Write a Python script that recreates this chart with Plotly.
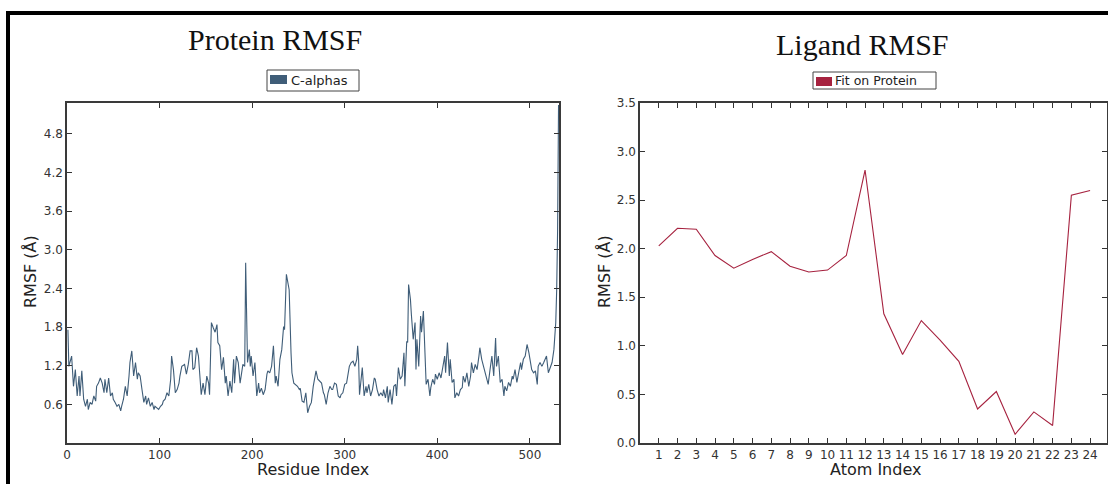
import plotly.graph_objects as go

# ---------------- data ----------------
protein_residue = [1, 2, 5, 7, 9, 11, 13, 14, 16, 18, 20, 22, 23, 25, 27, 29, 31, 32, 34, 36,
                   38, 40, 41, 43, 45, 47, 49, 50, 52, 54, 56, 58, 59, 61, 63, 65, 67, 68, 70, 72,
                   74, 76, 77, 79, 81, 83, 85, 86, 88, 90, 92, 94, 95, 97, 99, 101, 103, 104, 106, 108,
                   110, 112, 113, 115, 117, 119, 121, 122, 124,
                   127, 129, 131, 133, 135, 136, 138, 140, 142, 144, 145, 147, 149, 151, 153, 154,
                   156, 158, 160, 162, 163, 165, 167, 169, 171, 172, 174, 176, 178, 180, 181, 183,
                   185, 187, 189, 190, 192, 193, 195, 197, 198, 199, 201, 203, 205, 207, 208, 210,
                   212, 214, 216, 217, 219, 221, 223, 225, 226, 228, 230, 232, 234, 235, 237, 238,
                   240, 242, 243, 245, 247, 249, 251, 252, 254, 256, 258,
                   260, 262, 264, 266, 268, 269, 271, 273, 275, 277, 278, 280, 282, 284, 286, 287,
                   289, 291, 293, 295, 296, 298, 300, 302, 304, 305, 307, 309, 311, 313, 314, 315,
                   316, 318, 319, 321, 323, 324, 326, 328, 330, 332, 333, 335, 337, 339, 341, 342,
                   344, 346, 347, 349, 351, 353, 355, 356, 358, 360, 362, 364, 365, 367, 368, 369,
                   371, 372, 374, 376, 377, 378, 380, 382, 383, 385, 386, 388, 390, 392,
                   393, 395, 397, 398, 400, 402, 404, 406, 408, 409, 411, 413, 414, 416, 418, 419,
                   421, 423, 425, 427, 428, 430, 432, 434, 436, 437, 439, 441, 443, 445, 446, 448,
                   450, 452, 454, 455, 457, 459, 461, 463, 464, 466, 468, 470, 472, 473, 475, 477,
                   479, 481, 482, 484, 486, 488, 490, 491, 493, 495, 497, 499, 500, 502, 504, 506,
                   508, 509, 511, 513, 515, 517, 518, 520, 522, 524, 526, 527, 528, 529, 530, 531]
protein_rmsf = [1.76, 1.19, 1.35, 0.88, 1.14, 0.73, 1.04, 0.73, 1.12, 0.68, 0.57, 0.68, 0.52, 0.63, 0.60, 0.73, 0.65, 0.88, 0.93, 1.01,
                0.93, 0.78, 0.99, 0.78, 1.01, 0.73, 0.78, 0.68, 0.63, 0.57, 0.60, 0.50, 0.57, 0.68, 0.88, 0.73, 1.04, 1.25, 1.43, 1.04,
                1.25, 0.99, 1.09, 1.04, 0.83, 0.63, 0.73, 0.60, 0.70, 0.57, 0.63, 0.52, 0.57, 0.55, 0.52, 0.57, 0.60, 0.65, 0.68, 0.78,
                0.73, 0.99, 1.35, 1.14, 0.78, 0.83, 0.93, 1.04, 1.19,
                1.22, 1.07, 1.22, 1.43, 1.43, 1.14, 1.17, 1.48, 1.35, 0.88, 0.75, 0.93, 0.75, 1.04, 0.93, 0.75,
                1.87, 1.79, 1.72, 1.84, 1.56, 1.51, 1.14, 1.33, 0.93, 1.04, 0.73, 0.96, 0.78, 1.30, 0.93, 1.35,
                1.25, 0.93, 1.14, 1.22, 1.19, 2.80, 1.25, 1.45, 1.19, 1.35, 1.04, 1.25, 0.73, 0.93, 0.78, 0.85,
                0.75, 0.83, 1.07, 1.12, 1.09, 1.19, 1.51, 0.93, 1.04, 0.88, 1.30, 1.45, 1.81, 1.76, 2.62, 2.55,
                2.38, 1.40, 1.09, 0.93, 0.91, 0.88, 0.83, 0.85, 0.65, 0.63, 0.78,
                0.47, 0.57, 0.63, 0.88, 1.09, 1.12, 0.99, 0.96, 0.93, 0.78, 0.75, 0.60, 0.78, 0.88, 0.83, 0.83,
                0.93, 0.91, 0.73, 0.70, 0.75, 0.78, 0.91, 0.93, 1.14, 1.19, 1.25, 1.27, 1.19, 1.30, 1.51, 1.30,
                0.75, 1.04, 1.17, 0.73, 0.88, 0.78, 0.91, 0.73, 0.83, 1.01, 0.99, 0.83, 0.73, 0.78, 0.73, 0.83,
                0.70, 0.88, 0.63, 0.83, 0.60, 0.88, 0.91, 0.73, 1.17, 0.99, 1.04, 1.40, 0.88, 1.58, 1.56, 2.46,
                2.23, 2.00, 1.61, 1.87, 1.14, 1.61, 1.19, 1.97, 1.72, 2.05, 1.61, 0.91, 0.99, 0.73,
                0.86, 0.99, 0.91, 1.07, 0.99, 1.09, 1.01, 1.19, 1.35, 1.09, 1.56, 1.04, 1.30, 0.94, 0.99, 0.70,
                0.78, 0.73, 0.83, 0.86, 1.04, 0.94, 1.09, 0.88, 1.04, 1.25, 1.09, 1.22, 1.14, 1.35, 1.48, 1.30,
                1.19, 1.09, 0.99, 0.91, 1.14, 1.35, 1.04, 1.63, 1.19, 1.35, 0.94, 0.99, 0.73, 0.88, 0.81, 0.94,
                0.88, 1.04, 0.99, 1.14, 0.94, 1.09, 1.25, 1.14, 1.30, 1.35, 1.53, 1.40, 1.30, 1.14, 1.09, 1.12,
                0.91, 1.19, 1.25, 1.19, 1.25, 1.33, 1.35, 1.09, 1.17, 1.25, 1.45, 1.66, 1.87, 2.38, 3.31, 5.25]

ligand_atom = list(range(1, 25))
ligand_rmsf = [2.03, 2.21, 2.20, 1.93, 1.80, 1.89, 1.97, 1.82, 1.76, 1.78, 1.93, 2.81,
               1.33, 0.91, 1.26, 1.06, 0.84, 0.35, 0.53, 0.09, 0.32, 0.18, 2.55, 2.60]

protein_yticks = [0.6, 1.2, 1.8, 2.4, 3.0, 3.6, 4.2, 4.8]
protein_xticks = [0, 100, 200, 300, 400, 500]
ligand_yticks = [0.0, 0.5, 1.0, 1.5, 2.0, 2.5, 3.0, 3.5]

PROT_COLOR = "#3f5d78"
LIG_COLOR = "#a6223f"

W, H = 1108, 484


def px(x):
    return x / W


def py(y):
    return 1 - y / H


fig = go.Figure()
fig.add_trace(go.Scatter(x=protein_residue, y=protein_rmsf, mode="lines",
                         line=dict(color=PROT_COLOR, width=1.1), xaxis="x", yaxis="y",
                         showlegend=False))
fig.add_trace(go.Scatter(x=ligand_atom, y=ligand_rmsf, mode="lines",
                         line=dict(color=LIG_COLOR, width=1.1), xaxis="x2", yaxis="y2",
                         showlegend=False))

tickfont = dict(family="DejaVu Sans", size=12, color="#333333")
axis_common = dict(showgrid=False, zeroline=False, showline=True, linecolor="#3a3a3a",
                   linewidth=1.5, mirror="ticks", ticks="inside", ticklen=5, tickwidth=1,
                   tickcolor="#333333", tickfont=tickfont, automargin=False)

fig.update_layout(
    width=W, height=H,
    margin=dict(l=0, r=0, t=0, b=0),
    paper_bgcolor="white", plot_bgcolor="white",
    xaxis=dict(domain=[px(67), px(559)], range=[0, 531.5], tickvals=protein_xticks,
               anchor="y", **axis_common),
    yaxis=dict(domain=[py(443), py(103)], range=[0, 5.28], tickvals=protein_yticks,
               tickformat=".1f", anchor="x", **axis_common),
    xaxis2=dict(domain=[px(640), px(1107)], range=[0, 24.9], tickvals=ligand_atom,
                anchor="y2", **axis_common),
    yaxis2=dict(domain=[py(443), py(103)], range=[0, 3.5], tickvals=ligand_yticks,
                tickformat=".1f", anchor="x2", **axis_common),
)

shapes = []
# outer black frame (top and left)
shapes.append(dict(type="rect", xref="paper", yref="paper", x0=px(6), x1=px(1108),
                   y0=py(15), y1=py(11), fillcolor="black", line=dict(width=0)))
shapes.append(dict(type="rect", xref="paper", yref="paper", x0=px(6), x1=px(10),
                   y0=py(484), y1=py(11), fillcolor="black", line=dict(width=0)))
# legend boxes
shapes.append(dict(type="rect", xref="paper", yref="paper", x0=px(267), x1=px(359),
                   y0=py(91), y1=py(70), fillcolor="white", line=dict(color="#444444", width=1)))
shapes.append(dict(type="rect", xref="paper", yref="paper", x0=px(270), x1=px(287),
                   y0=py(84), y1=py(75), fillcolor=PROT_COLOR, line=dict(width=0)))
shapes.append(dict(type="rect", xref="paper", yref="paper", x0=px(813), x1=px(936),
                   y0=py(89), y1=py(72), fillcolor="white", line=dict(color="#444444", width=1)))
shapes.append(dict(type="rect", xref="paper", yref="paper", x0=px(816), x1=px(832),
                   y0=py(86), y1=py(77), fillcolor=LIG_COLOR, line=dict(width=0)))
fig.update_layout(shapes=shapes)

ann = []
title_font = dict(family="Liberation Serif", size=30, color="#111111")
ann.append(dict(text="Protein RMSF", x=px(275), y=py(39), xref="paper", yref="paper",
                showarrow=False, font=title_font, xanchor="center", yanchor="middle"))
ann.append(dict(text="Ligand RMSF", x=px(862), y=py(45), xref="paper", yref="paper",
                showarrow=False, font=title_font, xanchor="center", yanchor="middle"))
leg_font = dict(family="DejaVu Sans", size=13, color="#222222")
ann.append(dict(text="C-alphas", x=px(289), y=py(80.5), xref="paper", yref="paper",
                showarrow=False, font=leg_font, xanchor="left", yanchor="middle"))
ann.append(dict(text="Fit on Protein", x=px(833), y=py(80.5), xref="paper", yref="paper",
                showarrow=False, font=dict(family="DejaVu Sans", size=12.5, color="#222222"),
                xanchor="left", yanchor="middle"))
lab_font = dict(family="DejaVu Sans", size=16, color="#222222")
ann.append(dict(text="Residue Index", x=px(313), y=py(469), xref="paper", yref="paper",
                showarrow=False, font=lab_font, xanchor="center", yanchor="middle"))
ann.append(dict(text="Atom Index", x=px(875), y=py(469), xref="paper", yref="paper",
                showarrow=False, font=lab_font, xanchor="center", yanchor="middle"))
ann.append(dict(text="RMSF (Å)", x=px(30), y=py(272), xref="paper", yref="paper",
                showarrow=False, font=lab_font, textangle=-90, xanchor="center", yanchor="middle"))
ann.append(dict(text="RMSF (Å)", x=px(604), y=py(272), xref="paper", yref="paper",
                showarrow=False, font=lab_font, textangle=-90, xanchor="center", yanchor="middle"))
fig.update_layout(annotations=ann)

fig.write_html("out.html", config={"displayModeBar": False},
               post_script="document.body.style.margin='0';document.body.style.overflow='hidden';")
